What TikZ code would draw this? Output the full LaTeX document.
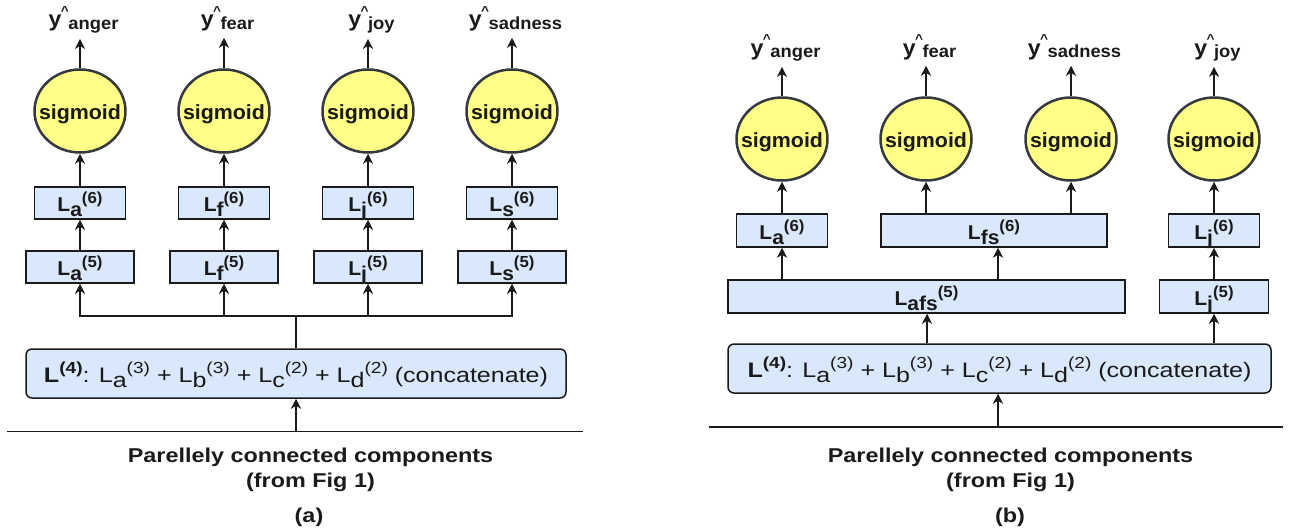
\documentclass[tikz,border=0pt]{standalone}
\usepackage{fontspec}
\setmainfont{Liberation Sans}
\usetikzlibrary{arrows.meta,shapes.geometric}
\definecolor{boxfill}{HTML}{DAE8FC}
\definecolor{circfill}{HTML}{FFFF88}
\definecolor{circline}{HTML}{36393D}
\definecolor{ink}{HTML}{1A1A1A}
% box labels  L_x^(n)
\newcommand{\lsub}[1]{\raisebox{-5pt}{#1}}
\newcommand{\lsup}[1]{\raisebox{8pt}{\fontsize{16}{16}\selectfont #1}}
\newcommand{\boxlab}[2]{\scalebox{1.05}[1]{\bfseries\fontsize{20}{20}\selectfont L\lsub{#1}\lsup{(#2)}}}
% output labels  y^_x
\newcommand{\yhat}[1]{\scalebox{1.05}[1]{\bfseries\fontsize{22}{22}\selectfont y\kern-0.5pt\raisebox{12pt}{\fontsize{13}{13}\selectfont\textasciicircum}\kern-0.5pt\raisebox{-2pt}{\fontsize{17.5}{17.5}\selectfont #1}}}
% sigmoid text
\newcommand{\sigtxt}{\makebox[0pt]{\resizebox{82pt}{\height}{\bfseries\fontsize{20.5}{20.5}\selectfont sigmoid}}}
% concatenation text
\newcommand{\csub}[1]{\raisebox{-4.5pt}{#1}}
\newcommand{\csup}[1]{\raisebox{9pt}{\fontsize{16}{16}\selectfont #1}}
\newcommand{\lfour}{\resizebox{504pt}{\height}{\fontsize{21}{21}\selectfont\textbf{L\csup{(4)}}: L\csub{a}\csup{(3)} + L\csub{b}\csup{(3)} + L\csub{c}\csup{(2)} + L\csub{d}\csup{(2)} (concatenate)}}
\newcommand{\captxt}[1]{\scalebox{1.17}[1]{\bfseries\fontsize{20}{20}\selectfont #1}}
\tikzset{
  arr/.style={draw=ink, line width=1.8pt, -{Stealth[length=10pt,width=10pt,inset=3pt]}},
  plain/.style={draw=ink, line width=1.6pt},
  lbox/.style={rectangle, draw=ink, fill=boxfill, line width=1.5pt, inner sep=0pt,
    text=ink, text height=17.4pt, text depth=0pt},
  cbox/.style={lbox, rounded corners=6pt, text height=18.6pt},
  sig/.style={ellipse, draw=circline, fill=circfill, line width=2.5pt, inner sep=0pt,
    minimum width=91pt, minimum height=83pt, text=ink, text height=16.6pt, text depth=0pt},
  ylab/.style={inner sep=0pt, anchor=base, text=ink},
  captext/.style={inner sep=0pt, anchor=base, text=ink},
  toout/.style={arr, shorten >=6pt}
}
\begin{document}
\begin{tikzpicture}[x=1pt,y=-1pt]
\useasboundingbox (0,0) rectangle (1295,530);

% ================= panel (a) =================
\node[ylab] (ya1) at (83.5,27)  {\yhat{anger}};
\node[ylab] (ya2) at (227.5,27) {\yhat{fear}};
\node[ylab] (ya3) at (371.5,27) {\yhat{joy}};
\node[ylab] (ya4) at (515.5,27) {\yhat{sadness}};

\node[sig] (sa1) at (80,111)  {\sigtxt};
\node[sig] (sa2) at (224,111) {\sigtxt};
\node[sig] (sa3) at (368,111) {\sigtxt};
\node[sig] (sa4) at (512,111) {\sigtxt};

\node[lbox, minimum width=91pt, minimum height=32pt] (pa1) at (80,203)  {\boxlab{a}{6}};
\node[lbox, minimum width=91pt, minimum height=32pt] (pa2) at (224,203) {\boxlab{f}{6}};
\node[lbox, minimum width=91pt, minimum height=32pt] (pa3) at (368,203) {\boxlab{j}{6}};
\node[lbox, minimum width=91pt, minimum height=32pt] (pa4) at (512,203) {\boxlab{s}{6}};

\node[lbox, minimum width=108pt, minimum height=32pt] (qa1) at (80,267)  {\boxlab{a}{5}};
\node[lbox, minimum width=108pt, minimum height=32pt] (qa2) at (224,267) {\boxlab{f}{5}};
\node[lbox, minimum width=108pt, minimum height=32pt] (qa3) at (368,267) {\boxlab{j}{5}};
\node[lbox, minimum width=108pt, minimum height=32pt] (qa4) at (512,267) {\boxlab{s}{5}};

\node[cbox, minimum width=540pt, minimum height=49pt] (ra) at (296,373.5) {\lfour};

\coordinate (busa) at (296,316);
\coordinate (ga1) at (7,431.5);
\coordinate (ga2) at (583,431.5);

\foreach \i in {1,2,3,4}{
  \draw[toout] (sa\i.north) -- (sa\i.north |- ya\i.south);
  \draw[arr] (pa\i.north) -- (sa\i.south);
  \draw[arr] (qa\i.north) -- (pa\i.south);
  \draw[arr] (ra.north) -- (busa) -| (qa\i.south);
}
\draw[plain] (ga1) -- (ga2);
\draw[arr] (ga1 -| ra.south) -- (ra.south);

\node[captext] (ta1) at (310.5,462) {\captxt{Parellely connected components}};
\node[captext] (ta2) at (310.5,487) {\captxt{(from Fig 1)}};
\node[captext] (ta3) at (309,522)   {\captxt{(a)}};

% ================= panel (b) =================
\node[ylab] (yb1) at (785.5,55)  {\yhat{anger}};
\node[ylab] (yb2) at (929.5,55)  {\yhat{fear}};
\node[ylab] (yb3) at (1074.5,55) {\yhat{sadness}};
\node[ylab] (yb4) at (1217.5,55) {\yhat{joy}};

\node[sig] (sb1) at (782,139)  {\sigtxt};
\node[sig] (sb2) at (926,139)  {\sigtxt};
\node[sig] (sb3) at (1071,139) {\sigtxt};
\node[sig] (sb4) at (1214,139) {\sigtxt};

\node[lbox, minimum width=91pt, minimum height=33pt]  (pb1) at (782,230.5)  {\boxlab{a}{6}};
\node[lbox, minimum width=226pt, minimum height=33pt] (pb2) at (994,230.5)  {\boxlab{fs}{6}};
\node[lbox, minimum width=91pt, minimum height=33pt]  (pb4) at (1214,230.5) {\boxlab{j}{6}};

\node[lbox, minimum width=397pt, minimum height=33pt] (qb1) at (926.5,296.5) {\boxlab{afs}{5}};
\node[lbox, minimum width=109pt, minimum height=33pt] (qb4) at (1214,296.5)  {\boxlab{j}{5}};

\node[cbox, minimum width=543pt, minimum height=49pt] (rb) at (999.5,368.5) {\lfour};

\coordinate (gb1) at (709,427);
\coordinate (gb2) at (1283,427);

\foreach \i in {1,2,3,4}{
  \draw[toout] (sb\i.north) -- (sb\i.north |- yb\i.south);
}
\draw[arr] (pb1.north) -- (sb1.south);
\draw[arr] (pb2.north -| sb2.south) -- (sb2.south);
\draw[arr] (pb2.north -| sb3.south) -- (sb3.south);
\draw[arr] (pb4.north) -- (sb4.south);

\draw[arr] (qb1.north -| pb1.south) -- (pb1.south);
\coordinate (fsx) at (998,0);
\draw[arr] (qb1.north -| fsx) -- (pb2.south -| fsx);
\draw[arr] (qb4.north) -- (pb4.south);

\coordinate (afx) at (927,0);
\draw[arr] (rb.north -| afx) -- (qb1.south -| afx);
\draw[arr] (rb.north -| qb4.south) -- (qb4.south);

\draw[plain] (gb1) -- (gb2);
\coordinate (inb) at (998,0);
\draw[arr] (gb1 -| inb) -- (rb.south -| inb);

\node[captext] (tb1) at (1010.5,462) {\captxt{Parellely connected components}};
\node[captext] (tb2) at (1010.5,487) {\captxt{(from Fig 1)}};
\node[captext] (tb3) at (1010,522)   {\captxt{(b)}};
\end{tikzpicture}
\end{document}
